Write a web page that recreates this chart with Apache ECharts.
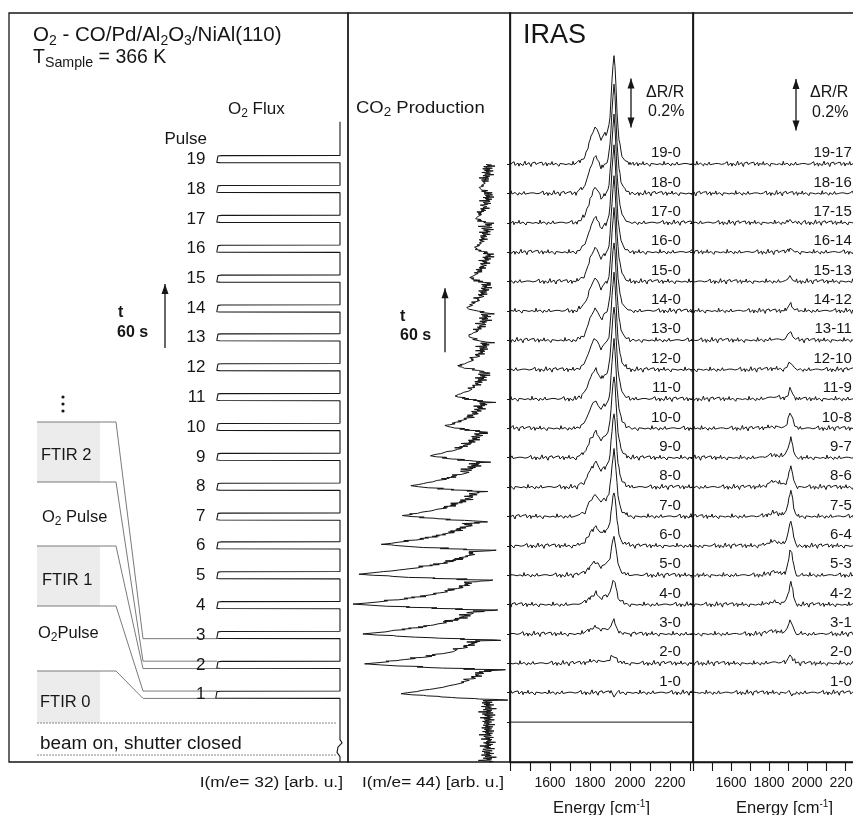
<!DOCTYPE html>
<html><head><meta charset="utf-8">
<script src="https://cdn.jsdelivr.net/npm/echarts@6/dist/echarts.min.js"></script>
<style>html,body{margin:0;padding:0;background:#fff}#c{width:853px;height:815px}</style>
</head><body><div id="c"></div>
<script>
// ================= DATA =================
const pulseNumbers = [1,2,3,4,5,6,7,8,9,10,11,12,13,14,15,16,17,18,19];
const pulseTimes = [63,91,119,147,175,203,230,258,286,314,342,370,398,425,453,481,509,537,565];
const o2Base = 0.08;
const o2PulseAmp = [1.23,1.22,1.22,1.22,1.22,1.22,1.22,1.22,1.22,1.22,1.22,1.22,1.22,1.22,1.22,1.22,1.22,1.22,1.22];
const o2PulseShapeDt  = [-3.4,-3.2,-3.0,-2.5,3.0,3.3,3.5];
const o2PulseShapeRel = [0,0.985,1.01,1.0,1.0,0.97,0];
const o2StartT = [0,5,9,14,18,21];
const o2StartV = [0.08,0.08,0.11,0.10,0.06,0.08];
const o2EndTime = 600;

const co2Tip   = [11.0,14.5,14.8,15.7,15.2,12.9,10.7,9.9,7.9,6.5,5.5,5.2,4.2,4.4,4.0,3.5,3.5,3.0,2.5];
const co2Level = [2.2,2.5,3.2,3.4,3.5,3.3,3.5,3.4,3.2,2.9,2.6,2.5,2.4,2.3,2.3,2.2,2.2,2.1,2.1,2.0];
const co2TipDelay = 1;
const co2OnsetShape = [0,-0.15,0.12,0.35,0.55,0.72,0.87,1.0];
const co2DecayShape = [0.9,0.8,0.72,0.64,0.57,0.5,0.44,0.39,0.34,0.3,0.26,0.22,0.19,0.16,0.13,0.11,0.09,0.07,0.055,0.04,0.03,0.02,0.01,0.005,0];
const co2EndTime = 560;

const noise = [0.5,-1.2,1.8,-0.4,0.9,-2.1,0.3,1.4,-0.8,2.6,-1.5,0.2,-0.6,1.1,-2.4,0.7,1.9,-0.3,-1.7,0.8,
3.2,-0.9,0.4,-1.3,1.6,-0.2,-2.8,1.0,0.1,-1.1,2.2,-0.5,0.6,-1.9,1.3,-0.7,0.9,2.0,-1.4,0.3,
-0.1,1.7,-2.2,0.5,-0.8,1.2,-0.3,2.7,-1.0,0.4,-1.6,0.8,-0.4,1.5,-2.5,0.6,1.1,-0.9,0.2,-1.3,
2.3,-0.6,0.9,-1.8,0.4,1.4,-0.2,-1.1,3.0,-0.7,0.5,-1.5,1.0,-0.3,1.8,-2.0,0.7,-0.5,1.2,-1.2,
0.3,2.1,-0.8,-1.6,0.9,-0.1,1.6,-2.3,0.6,-0.4,1.3];

const irasLabels = ['1-0','2-0','3-0','4-0','5-0','6-0','7-0','8-0','9-0','10-0','11-0','12-0','13-0','14-0','15-0','16-0','17-0','18-0','19-0'];
const diffLabels = ['1-0','2-0','3-1','4-2','5-3','6-4','7-5','8-6','9-7','10-8','11-9','12-10','13-11','14-12','15-13','16-14','17-15','18-16','19-17'];
const irasPeak     = [0,0.033,0.053,0.102,0.163,0.224,0.273,0.306,0.335,0.359,0.380,0.396,0.408,0.420,0.429,0.437,0.441,0.445,0.449];
const irasShoulder = [0,0.012,0.029,0.045,0.053,0.078,0.090,0.102,0.106,0.114,0.122,0.127,0.131,0.135,0.139,0.143,0.147,0.151,0.151];
const irasDeriv    = [0.016,0.004,0,0,0,0,0,0,0,0,0,0,0,0,0,0,0,0,0];
const diffPeak     = [0,0.033,0.061,0.090,0.106,0.102,0.106,0.086,0.078,0.069,0.041,0.033,0.037,0.029,0.020,0.016,0.012,0,0];
const diffShoulder = [0,0.004,0.012,0.012,0.012,0.020,0.016,0.024,0.012,0.008,0.008,0.004,0.004,0,0,0,0,0,0];
const diffDeriv    = [0.016,0.004,0,0,0,0,0,0,0,0,0,0,0,0,0,0,0,0,0];
const mainBandStart = 1860;
const mainBand = [0.02,0.04,0.07,0.1,0.13,0.17,0.22,0.3,0.42,0.58,0.75,0.9,1.0,0.88,0.68,0.48,0.33,0.23,0.17,0.12,0.09,0.07,0.055,0.04,0.03,0.022,0.015,0.01,0.005];
const shoulderBandStart = 1730;
const shoulderBand = [0,0.02,0.04,0.06,0.08,0.1,0.12,0.14,0.17,0.2,0.27,0.36,0.46,0.56,0.65,0.72,0.78,0.84,0.91,0.97,1.0,0.97,0.9,0.82,0.75,0.69,0.64,0.6,0.56,0.5,0.42,0.33,0.24,0.15,0.08,0.03,0];
const diffBandStart = 1880;
const diffBand = [0.03,0.07,0.14,0.26,0.44,0.66,0.88,1.0,0.86,0.62,0.4,0.24,0.13,0.06,0.02];
const derivBandStart = 1900;
const derivBand = [0.2,0.5,0.7,0.2,-0.6,-1.0,-0.6,-0.2];
const spectrumBase = 0.163;
const spectrumStep = 0.12;
const noisePct = 0.9/245;
const irasRange = [1400,2315];
const diffRange = [1400,2363];
const energyTickLabels = [1600,1800,2000,2200];

// ================= BUILD SERIES DATA =================
const o2Data = [];
o2StartT.forEach((t,i)=>o2Data.push([o2StartV[i], t]));
pulseTimes.forEach((tp,n)=>{
  o2PulseShapeDt.forEach((dt,j)=>o2Data.push([o2Base + o2PulseAmp[n]*o2PulseShapeRel[j], tp+dt]));
});
o2Data.push([o2Base, o2EndTime]);

const co2Data = [];
for (let t=0; t<=co2EndTime; t++){
  let level = co2Level[co2Level.length-1];
  for (let n=0;n<pulseTimes.length;n++){ if (t < pulseTimes[n]+co2TipDelay){ level = co2Level[n]; break; } }
  let v = level, prof = 0;
  for (let n=0;n<pulseTimes.length;n++){
    const k = t - (pulseTimes[n]+co2TipDelay);
    if (k>=-7 && k<=0){ const p=co2OnsetShape[k+7]; v = co2Level[n] + (co2Tip[n]-co2Level[n])*p; prof=Math.max(0,p); }
    else if (k>=1 && k<=co2DecayShape.length){ const p=co2DecayShape[k-1]; v = co2Level[n+1] + (co2Tip[n]-co2Level[n+1])*p; prof=p; }
  }
  const amp = 0.3*(1-0.85*prof);
  co2Data.push([v + noise[(2*t+17)%noise.length]*amp, t]);
  if (t<co2EndTime) co2Data.push([v + noise[(2*t+18)%noise.length]*amp, t+0.5]);
}

function band(shape, start, e){ const i=Math.round((e-start)/5); return (i>=0 && i<shape.length) ? shape[i] : 0; }
function offset(n){ return spectrumBase + spectrumStep*n; }
function spectrum(n, range, peak, sh, der, peakShape, peakStart, shift){
  const d=[]; let i=0;
  for (let e=range[0]; e<=range[1]; e+=5, i++){
    const y = offset(n) + peak[n-1]*band(peakShape,peakStart,e) + sh[n-1]*band(shoulderBand,shoulderBandStart,e)
              + der[n-1]*band(derivBand,derivBandStart,e) + noise[(i+shift)%noise.length]*noisePct;
    d.push([e,y]);
  }
  return d;
}

// ================= CHART =================
const FONT = '"Liberation Sans", Arial, Helvetica, sans-serif';
const INK = '#161616';
const chart = echarts.init(document.getElementById('c'));
const grids = [
  {left:9,  top:13, width:339, height:749},
  {left:348,top:13, width:162, height:749},
  {left:510,top:13, width:183, height:749},
  {left:693,top:13, width:183, height:749}
].map(g=>Object.assign({show:true,borderColor:INK,borderWidth:1.3,backgroundColor:'transparent',containLabel:false,outerBoundsMode:'none'},g));

const hiddenAxis = (gi, extra)=>Object.assign({gridIndex:gi,type:'value',show:false,splitLine:{show:false}},extra);
const energyAxis = (gi, range)=>({
  gridIndex:gi,type:'value',min:range[0],max:range[1],interval:100,
  axisLine:{show:true,lineStyle:{color:INK,width:1.3}},
  axisTick:{show:true,inside:false,length:9,lineStyle:{color:INK,width:1.1}},
  axisLabel:{show:true,customValues:energyTickLabels,formatter:v=>String(v),hideOverlap:false,showMinLabel:true,showMaxLabel:true,
    fontSize:14,color:INK,fontFamily:FONT,margin:14},
  splitLine:{show:false},
  name:'Energy [cm{sup|-1}]',nameLocation:'middle',nameGap:37,nameMoveOverlap:false,
  nameTextStyle:{fontSize:16.5,color:INK,fontFamily:FONT,rich:{sup:{fontSize:10,color:INK,fontFamily:FONT,padding:[0,0,9,0]}}}
});
const offsetTicks = []; for (let n=0;n<=19;n++) offsetTicks.push(offset(n));
const ratioAxis = (gi)=>({
  gridIndex:gi,type:'value',min:0,max:3.06,
  axisLine:{show:true,lineStyle:{color:INK,width:1.3}},
  axisTick:{show:true,inside:false,length:3,customValues:offsetTicks,lineStyle:{color:INK}},
  axisLabel:{show:false},splitLine:{show:false}
});

function traceSeries(xi, yi, data, w){
  return {type:'line',xAxisIndex:xi,yAxisIndex:yi,data,showSymbol:false,symbol:'none',silent:true,
    lineStyle:{color:INK,width:w||1},animation:false,z:3};
}
function arrowSeries(xi, yi, x, y0, y1, both){
  return {type:'line',xAxisIndex:xi,yAxisIndex:yi,silent:true,animation:false,showSymbol:true,symbol:'triangle',
    lineStyle:{color:INK,width:1.3},itemStyle:{color:INK},z:4,
    data:[ both ? {value:[x,y0],symbol:'triangle',symbolRotate:180,symbolSize:[7,10],symbolOffset:[0,-5]} : {value:[x,y0],symbol:'none'},
           {value:[x,y1],symbol:'triangle',symbolSize:[7,10],symbolOffset:[0,5]} ]};
}
function labelSeries(xi, yi, data, size){
  return {type:'scatter',xAxisIndex:xi,yAxisIndex:yi,symbolSize:1,itemStyle:{color:'rgba(0,0,0,0)'},silent:true,animation:false,z:5,
    label:{show:true,position:'left',distance:0,formatter:p=>p.name,fontSize:size,color:INK,fontFamily:FONT,opacity:1},
    labelLayout:{hideOverlap:false},data};
}

const series = [];
series.push(traceSeries(0,0,o2Data,1.1));
series.push(labelSeries(0,0,pulseNumbers.map((p,i)=>({name:String(p),value:[1.42,pulseTimes[i]]})),17));
series.push(arrowSeries(0,0,1.83,388,448,false));
series.push(traceSeries(1,1,co2Data,1));
series.push(arrowSeries(1,1,6.5,384,444,false));
series.push(traceSeries(2,2,[[irasRange[0],offset(0)],[irasRange[1],offset(0)]],1));
for (let n=1;n<=19;n++) series.push(traceSeries(2,2,spectrum(n,irasRange,irasPeak,irasShoulder,irasDeriv,mainBand,mainBandStart,n*29),1));
series.push(labelSeries(2,2,irasLabels.map((s,i)=>({name:s,value:[2257,offset(i+1)+0.045]})),15));
series.push(arrowSeries(2,2,2005,2.592,2.792,true));
for (let n=1;n<=19;n++) series.push(traceSeries(3,3,spectrum(n,diffRange,diffPeak,diffShoulder,diffDeriv,diffBand,diffBandStart,n*41+13),1));
series.push(labelSeries(3,3,diffLabels.map((s,i)=>({name:s,value:[2238,offset(i+1)+0.045]})),15));
series.push(arrowSeries(3,3,1942,2.58,2.79,true));

function txt(x,y,text,o){
  o=o||{};
  return {type:'text',x:x,y:y,scaleX:o.sx||1,silent:true,z:10,style:{text:text,fill:INK,
    font:(o.weight||'normal')+' '+(o.size||16)+'px '+FONT,
    align:o.align||'left',textAlign:o.align||'left',verticalAlign:'middle',textVerticalAlign:'middle',
    rich:o.rich}};
}
const subRich = (size,pad)=>({sub:{fontSize:size,fontFamily:FONT,fill:INK,color:INK,padding:[pad,0,0,0]}});
const texts = [
  txt(33,35,'O{sub|2} - CO/Pd/Al{sub|2}O{sub|3}/NiAl(110)',{size:20.5,rich:subRich(14,13)}),
  txt(33,57,'T{s2|Sample} = 366 K',{size:20.5,sx:0.95,rich:{s2:{fontSize:15,fontFamily:FONT,padding:[12,0,0,0]}}}),
  txt(228,109,'O{sub|2} Flux',{size:17,rich:subRich(12,10)}),
  txt(207,139,'Pulse',{size:17,align:'right'}),
  txt(356,108,'CO{sub|2} Production',{size:16.5,sx:1.12,rich:subRich(12,10)}),
  txt(523,36,'IRAS',{size:27}),
  txt(118,313,'t',{size:16,weight:'bold'}),
  txt(117,333,'60 s',{size:16,weight:'bold'}),
  txt(400,317,'t',{size:16,weight:'bold'}),
  txt(400,336,'60 s',{size:16,weight:'bold'}),
  txt(646,93,'ΔR/R',{size:16}),
  txt(648,112,'0.2%',{size:16}),
  txt(810,93,'ΔR/R',{size:16}),
  txt(812,113,'0.2%',{size:16}),
  txt(41,455,'FTIR 2',{size:16.5}),
  txt(42,517,'O{sub|2} Pulse',{size:16.5,rich:subRich(12,10)}),
  txt(42,580,'FTIR 1',{size:16.5}),
  txt(38,633,'O{sub|2}Pulse',{size:16.5,rich:subRich(12,10)}),
  txt(40,702,'FTIR 0',{size:16.5}),
  txt(40,744,'beam on, shutter closed',{size:17.5,sx:1.08}),
  txt(343,783,'I(m/e= 32) [arb. u.]',{size:15.5,sx:1.12,align:'right'}),
  txt(504,783,'I(m/e= 44) [arb. u.]',{size:15.5,sx:1.11,align:'right'})
];
const rows = [422,482,546,606,671];
const boxes = [[422,482],[546,606],[671,723]];
const schem = [];
boxes.forEach(b=>schem.push({type:'rect',silent:true,z:1,shape:{x:37,y:b[0],width:63,height:b[1]-b[0]},style:{fill:'#ececec'}}));
[397,404,411].forEach(y=>schem.push({type:'circle',silent:true,z:2,shape:{cx:63,cy:y,r:1.6},style:{fill:INK}}));
[723,755].forEach(y=>schem.push({type:'line',silent:true,z:2,shape:{x1:37,y1:y,x2:337,y2:y},style:{stroke:'#888',lineWidth:1,lineDash:[2,1]}}));

chart.setOption({
  animation:false,
  backgroundColor:'#fff',
  textStyle:{fontFamily:FONT},
  grid:grids,
  xAxis:[hiddenAxis(0,{inverse:true,min:0,max:3.39}),hiddenAxis(1,{inverse:true,min:0,max:16.2}),energyAxis(2,irasRange),energyAxis(3,diffRange)],
  yAxis:[hiddenAxis(0,{min:0,max:702}),hiddenAxis(1,{min:0,max:702}),ratioAxis(2),ratioAxis(3)],
  series:series
});

const targets = [pulseTimes[2]+o2PulseShapeDt[0], pulseTimes[1]+o2PulseShapeDt[o2PulseShapeDt.length-1],
                 pulseTimes[1]+o2PulseShapeDt[0], pulseTimes[0]+o2PulseShapeDt[o2PulseShapeDt.length-1],
                 pulseTimes[0]+o2PulseShapeDt[0]];
rows.forEach((ry,i)=>{
  const p = chart.convertToPixel({gridIndex:0},[o2Base+o2PulseAmp[0],targets[i]]);
  schem.push({type:'polyline',silent:true,z:2,shape:{points:[[37,ry],[116,ry],[143,p[1]],[p[0],p[1]]]},style:{stroke:'#7a7a7a',lineWidth:1,fill:null}});
});
chart.setOption({graphic:{elements:schem.concat(texts)}});
</script></body></html>
